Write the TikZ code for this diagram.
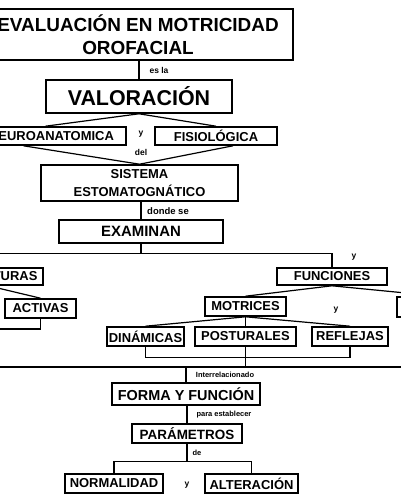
\documentclass[tikz,border=0pt]{standalone}
\usepackage{fontspec}
\setmainfont{Liberation Sans}
\usetikzlibrary{positioning,calc}

\begin{document}
\begin{tikzpicture}[x=1bp,y=-1bp,
  caja/.style={draw, line width=1.6bp, inner sep=0pt, align=center, font=\bfseries\fontsize{13}{15}\selectfont},
  lin/.style={line width=1.2bp},
  etq/.style={inner sep=0pt, font=\bfseries\fontsize{8.5}{9}\selectfont}]
\useasboundingbox (0,0) rectangle (400,500);
\node[caja, minimum width=310bp, minimum height=51bp, font=\bfseries\fontsize{19}{23}\selectfont] (eval) at (138,34.5) {EVALUACIÓN EN MOTRICIDAD\\OROFACIAL};
\node[caja, minimum width=186bp, minimum height=33bp, font=\bfseries\fontsize{21.5}{24}\selectfont] (valor) at (139,96.5) {VALORACIÓN};
\node[caja, minimum width=149bp, minimum height=18bp] (neuro) at (51.5,136) {NEUROANATOMICA};
\node[caja, minimum width=122bp, minimum height=18bp] (fisio) at (216,136) {FISIOLÓGICA};
\node[caja, minimum width=197bp, minimum height=36bp, font=\bfseries\fontsize{13}{18}\selectfont] (sistema) at (139.5,183) {SISTEMA\\ESTOMATOGNÁTICO};
\node[caja, minimum width=164bp, minimum height=23bp, font=\bfseries\fontsize{15}{17}\selectfont] (examinan) at (141,231.5) {EXAMINAN};
\node[caja, minimum width=109bp, minimum height=17bp] (estruct) at (-11.5,276.5) {ESTRUCTURAS};
\node[caja, minimum width=110bp, minimum height=17bp] (funciones) at (332,276.5) {FUNCIONES};
\node[caja, minimum width=71bp, minimum height=19bp] (activas) at (40.5,308.5) {ACTIVAS};
\node[caja, minimum width=81bp, minimum height=19bp] (motrices) at (245.5,306.5) {MOTRICES};
\node[caja, minimum width=83bp, minimum height=20bp] (derecha) at (438.5,307) {};
\node[caja, minimum width=77bp, minimum height=19bp] (dinamicas) at (145.5,336.5) {DINÁMICAS};
\node[caja, minimum width=101bp, minimum height=19bp] (posturales) at (245.5,336.5) {POSTURALES};
\node[caja, minimum width=76bp, minimum height=19bp] (reflejas) at (350,336.5) {REFLEJAS};
\node[caja, minimum width=148bp, minimum height=22bp, font=\bfseries\fontsize{14.5}{17}\selectfont] (forma) at (186,394) {FORMA Y FUNCIÓN};
\node[caja, minimum width=110bp, minimum height=19bp, font=\bfseries\fontsize{13.5}{15}\selectfont] (param) at (187,433.5) {PARÁMETROS};
\node[caja, minimum width=98bp, minimum height=19bp] (normal) at (114,483.5) {NORMALIDAD};
\node[caja, minimum width=93bp, minimum height=19bp] (alter) at (251.5,483.5) {ALTERACIÓN};
\coordinate (izqA) at (-30,329);
\coordinate (izqB) at (-30,367);
\coordinate (derB) at (430,367);
\draw[lin] (valor.north |- eval.south) -- (valor.north);
\draw[lin] (valor.south) -- ([xshift=-6bp]neuro.north);
\draw[lin] (valor.south) -- (fisio.north);
\draw[lin] ([xshift=-28bp]neuro.south) -- (sistema.north);
\draw[lin] ([xshift=17bp]fisio.south) -- (sistema.north);
\draw[lin] (examinan.north |- sistema.south) -- (examinan.north);
\draw[lin] (examinan.south) -- ++(0,10) coordinate (rama);
\draw[lin] (estruct.north) |- (rama) -| (funciones.north);
\draw[lin] (estruct.south) -- (activas.north);
\draw[lin] (activas.south) |- (izqA);
\draw[lin] (funciones.south) -- (motrices.north);
\draw[lin] (funciones.south) -- (derecha.north);
\draw[lin] (motrices.south) -- (dinamicas.north);
\draw[lin] (motrices.south) -- (posturales.north);
\draw[lin] (motrices.south) -- (reflejas.north);
\draw[lin] (dinamicas.south) -- ++(0,11) -| (reflejas.south);
\draw[lin] (posturales.south) -- (posturales.south |- derB);
\draw[lin] (izqB) -- (derB);
\draw[lin] (forma.north |- derB) -- (forma.north);
\draw[lin] (param.north |- forma.south) -- (param.north);
\draw[lin] (param.south) -- ++(0,18) coordinate (rama2);
\draw[lin] (normal.north) |- (rama2) -| (alter.north);
\node[etq] (esla) at (159,70) {es la};
\node[etq] (y1) at (141,134) {y};
\node[etq] (del) at (141,152) {del};
\node[etq, font=\bfseries\fontsize{9.5}{10}\selectfont] (donde) at (168,211) {donde se};
\node[etq] (y2) at (354,257) {y};
\node[etq] (y3) at (336,310) {y};
\node[etq, font=\bfseries\fontsize{7.5}{8}\selectfont] (inter) at (225,375) {Interrelacionado};
\node[etq, font=\bfseries\fontsize{7.5}{8}\selectfont] (para) at (224,415) {para establecer};
\node[etq, font=\bfseries\fontsize{7.5}{8}\selectfont] (de) at (197,453) {de};
\node[etq] (y4) at (187,485) {y};
\end{tikzpicture}
\end{document}
